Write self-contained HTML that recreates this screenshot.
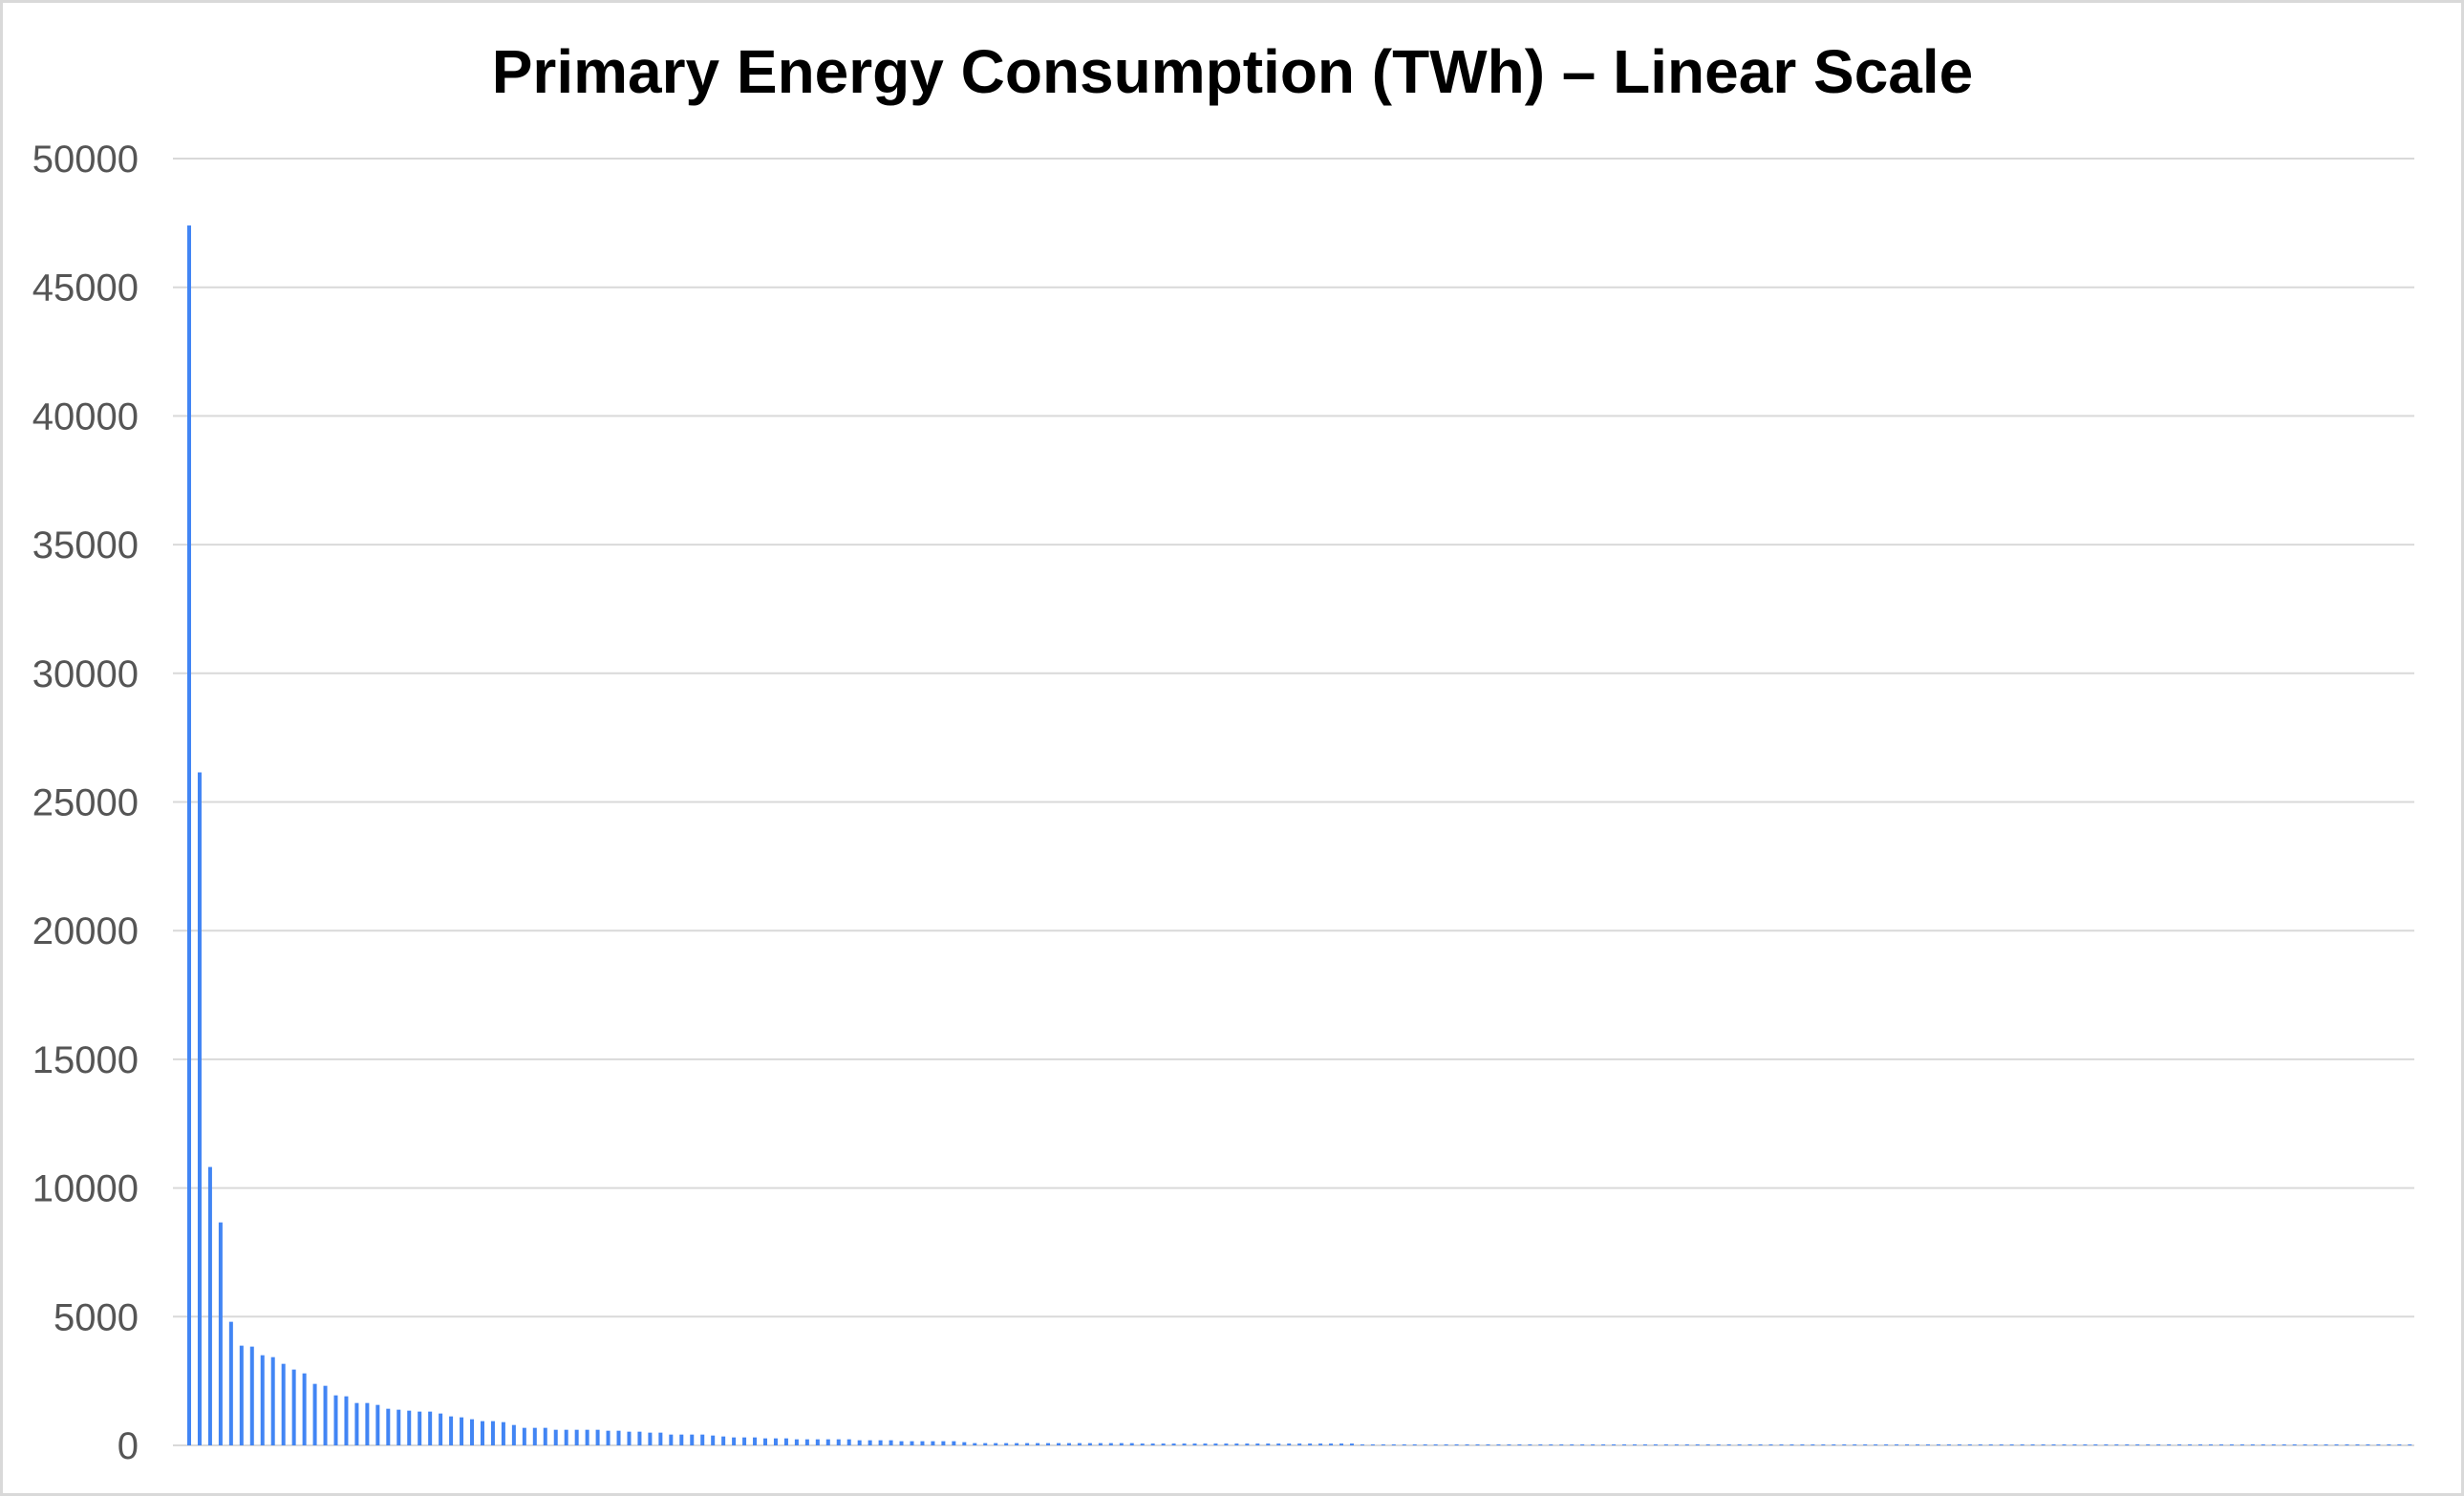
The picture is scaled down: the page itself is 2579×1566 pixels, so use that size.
<!DOCTYPE html>
<html><head><meta charset="utf-8"><style>
html,body{margin:0;padding:0;background:#fff;}
svg{display:block;}
</style></head><body>
<svg id="chart" width="2579" height="1566" xmlns="http://www.w3.org/2000/svg">
<rect x="1.5" y="1.5" width="2576" height="1563" fill="#fff" stroke="#d9d9d9" stroke-width="3"/>
<text x="1290" y="97" text-anchor="middle" font-family="Liberation Sans, Arial, sans-serif" font-weight="bold" font-size="64" fill="#000">Primary Energy Consumption (TWh) – Linear Scale</text>
<g id="grid"></g>
<g id="yaxis"></g>
<g id="bars"></g>
</svg>
<script>
const yTicks=[0,5000,10000,15000,20000,25000,30000,35000,40000,45000,50000];
const head=[47400,26150,10817,8663,4802,3874,3837,3502,3428,3168,2946,2797,2389,2314,1943,1906,1646,1646,1572,1423,1386,1349,1312,1312,1238,1126,1089,1015,941,941,903,792,681,681,681,606,606,606,606,606,569,569,532,532,495,495,420,420,420,420,383,346,309,309,309,272,272,272,235,235,235,235,235,235,198,198,198,198,161,161,161,161,161,161,124,87,87,87,87,87,87,87,87,87,87,87,87,87,87,87,87];
const mid=[70,70,70,70,70,70,70,70,70,70,70,70,70,70,70,70,70,70,70,70,70];
const tailA=[35,35,35,35,35,35,35,35,35,35,35,35,35,35,35,35,35,35,35,35,35,35,35,35,35,35,35,35,35,35,35,35,35,35,35,35,35,35,35,35,35,35,35,35,35,35,35,35,35,35,35,35,35,35,35,35,35,35,35,35];
const tailB=[22,22,22,22,22,22,22,22,22,22,22,22,22,22,22,22,22,22,22,22,22,22,22,22,22,22,22,22,22,22,22,22,22,22,22,22,22,22,22,22,22];
const values=head.concat(mid,tailA,tailB);

const NS='http://www.w3.org/2000/svg';
const plotL=181,plotR=2527,y0=1513,yTop=166,yMax=50000;
const firstX=198,lastX=2522.3;
function yScale(v){return y0-(v/yMax)*(y0-yTop);}
function xScale(i){return firstX+i*(lastX-firstX)/(values.length-1);}

const grid=document.getElementById('grid'),yaxis=document.getElementById('yaxis'),bars=document.getElementById('bars');
yTicks.forEach(t=>{
  const l=document.createElementNS(NS,'line');
  
  
  l.setAttribute('x1',plotL);l.setAttribute('x2',plotR);
  l.setAttribute('y1',yScale(t));l.setAttribute('y2',yScale(t));
  l.setAttribute('stroke','#d9d9d9');l.setAttribute('stroke-width','2');
  grid.appendChild(l);
  const tx=document.createElementNS(NS,'text');
  
  
  tx.setAttribute('x',145);tx.setAttribute('y',yScale(t)+14);
  tx.setAttribute('text-anchor','end');
  tx.setAttribute('font-family','Liberation Sans, Arial, sans-serif');
  tx.setAttribute('font-size','40');tx.setAttribute('fill','#555');
  tx.textContent=t;
  yaxis.appendChild(tx);
});
values.forEach((v,i)=>{
  const r=document.createElementNS(NS,'rect');
  
  
  const h=Math.max(y0-yScale(v),1);
  r.setAttribute('x',xScale(i)-2);r.setAttribute('width',4);
  r.setAttribute('y',y0-h);r.setAttribute('height',h);
  r.setAttribute('fill','#4285f4');
  bars.appendChild(r);
});
</script>
</body></html>
